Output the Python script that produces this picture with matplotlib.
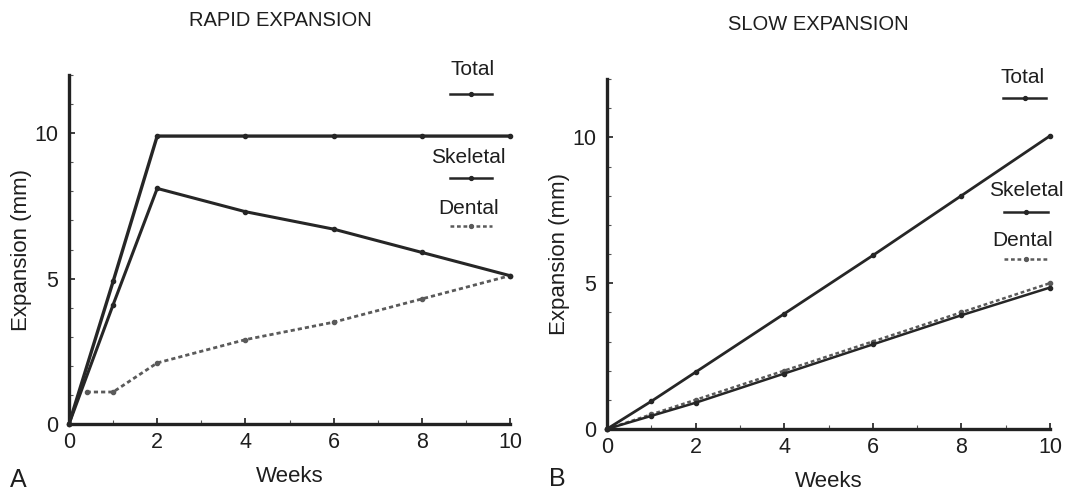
import matplotlib.pyplot as plt
from matplotlib.ticker import MultipleLocator

plt.rcParams['font.family'] = ['Liberation Sans', 'DejaVu Sans']

# Rapid expansion (panel A)
rapid_weeks = [0, 1, 2, 4, 6, 8, 10]
rapid_total = [0, 4.9, 9.9, 9.9, 9.9, 9.9, 9.9]
rapid_skeletal = [0, 4.1, 8.1, 7.3, 6.7, 5.9, 5.1]
rapid_dental_weeks = [0.4, 1, 2, 4, 6, 8, 10]
rapid_dental = [1.1, 1.1, 2.1, 2.9, 3.5, 4.3, 5.1]

# Slow expansion (panel B)
slow_weeks = [0, 1, 2, 4, 6, 8, 10]
slow_total = [0, 0.95, 1.95, 3.95, 5.95, 8.0, 10.05]
slow_skeletal = [0, 0.45, 0.9, 1.9, 2.9, 3.9, 4.85]
slow_dental = [0, 0.5, 1.0, 2.0, 3.0, 4.0, 5.0]

series_names = ['Total', 'Skeletal', 'Dental']
x_ticks = [0, 2, 4, 6, 8, 10]
y_ticks = [0, 5, 10]

dark = '#262626'
txt = '#1e1e1e'
dent_col = '#5a5a5a'
dot_style = (0, (1.5, 1.1))

fig = plt.figure(figsize=(10.66, 4.9), dpi=100)
axA = fig.add_axes([69/1066, 1-424/490, 441/1066, 349/490])
axB = fig.add_axes([607/1066, 1-429/490, 443/1066, 350/490])


def style_axes(ax):
    ax.set_xlim(0, 10)
    ax.set_ylim(0, 12)
    for s in ['top', 'right']:
        ax.spines[s].set_visible(False)
    for s in ['left', 'bottom']:
        ax.spines[s].set_linewidth(2.4)
        ax.spines[s].set_color('#222222')
    ax.set_xticks(x_ticks)
    ax.set_yticks(y_ticks)
    ax.xaxis.set_minor_locator(MultipleLocator(1))
    ax.yaxis.set_minor_locator(MultipleLocator(1))
    ax.tick_params(which='major', direction='in', length=4, width=1.2,
                   labelsize=15.5, colors=txt)
    ax.tick_params(axis='x', which='major', pad=6)
    ax.tick_params(axis='y', which='major', pad=8)
    ax.tick_params(which='minor', direction='in', length=3, width=0.8, colors='#555555')
    ax.set_xlabel('Weeks', fontsize=16, color=txt, labelpad=9)
    ax.set_ylabel('Expansion (mm)', fontsize=16, color=txt, labelpad=1)


def legend_entry(ax, name, tx, ty, ly, x0, x1, ls, col):
    ax.text(tx, ty, name, transform=ax.transAxes, ha='center', va='center',
            fontsize=15, color=txt, clip_on=False)
    ax.plot([x0, x1], [ly, ly], transform=ax.transAxes,
            color=col, linestyle=ls, lw=1.8, clip_on=False)
    ax.plot([(x0 + x1) / 2], [ly], transform=ax.transAxes, color=col,
            marker='o', markersize=2.8, clip_on=False)


# Panel A
axA.plot(rapid_weeks, rapid_total, color=dark, lw=2.4, marker='o', markersize=3, clip_on=False, zorder=3)
axA.plot(rapid_weeks, rapid_skeletal, color=dark, lw=2.2, marker='o', markersize=3, clip_on=False, zorder=3)
axA.plot(rapid_dental_weeks, rapid_dental, color=dent_col, lw=2.0, linestyle=dot_style,
         marker='o', markersize=3, clip_on=False, zorder=2)
style_axes(axA)
legend_entry(axA, series_names[0], 0.914, 1.017, 0.945, 0.864, 0.959, '-', dark)
legend_entry(axA, series_names[1], 0.905, 0.764, 0.704, 0.864, 0.959, '-', dark)
legend_entry(axA, series_names[2], 0.905, 0.618, 0.568, 0.864, 0.959, dot_style, dent_col)

# Panel B
axB.plot(slow_weeks, slow_total, color=dark, lw=2.0, marker='o', markersize=3, clip_on=False, zorder=3)
axB.plot(slow_weeks, slow_skeletal, color=dark, lw=1.8, marker='o', markersize=3, clip_on=False, zorder=3)
axB.plot(slow_weeks, slow_dental, color=dent_col, lw=1.8, linestyle=dot_style,
         marker='o', markersize=3, clip_on=False, zorder=2)
style_axes(axB)
legend_entry(axB, series_names[0], 0.939, 1.003, 0.946, 0.894, 0.991, '-', dark)
legend_entry(axB, series_names[1], 0.946, 0.682, 0.619, 0.896, 0.995, '-', dark)
legend_entry(axB, series_names[2], 0.939, 0.540, 0.486, 0.896, 0.995, dot_style, dent_col)

# Titles and panel letters
fig.text(280/1066, 1-20/490, 'RAPID EXPANSION', ha='center', va='center', fontsize=14.5, color=txt)
fig.text(818/1066, 1-24/490, 'SLOW EXPANSION', ha='center', va='center', fontsize=14.5, color=txt)
fig.text(18/1066, 1-480/490, 'A', ha='center', va='center', fontsize=18, color=txt)
fig.text(557/1066, 1-479/490, 'B', ha='center', va='center', fontsize=18, color=txt)

fig.savefig('out.png', dpi=100)
